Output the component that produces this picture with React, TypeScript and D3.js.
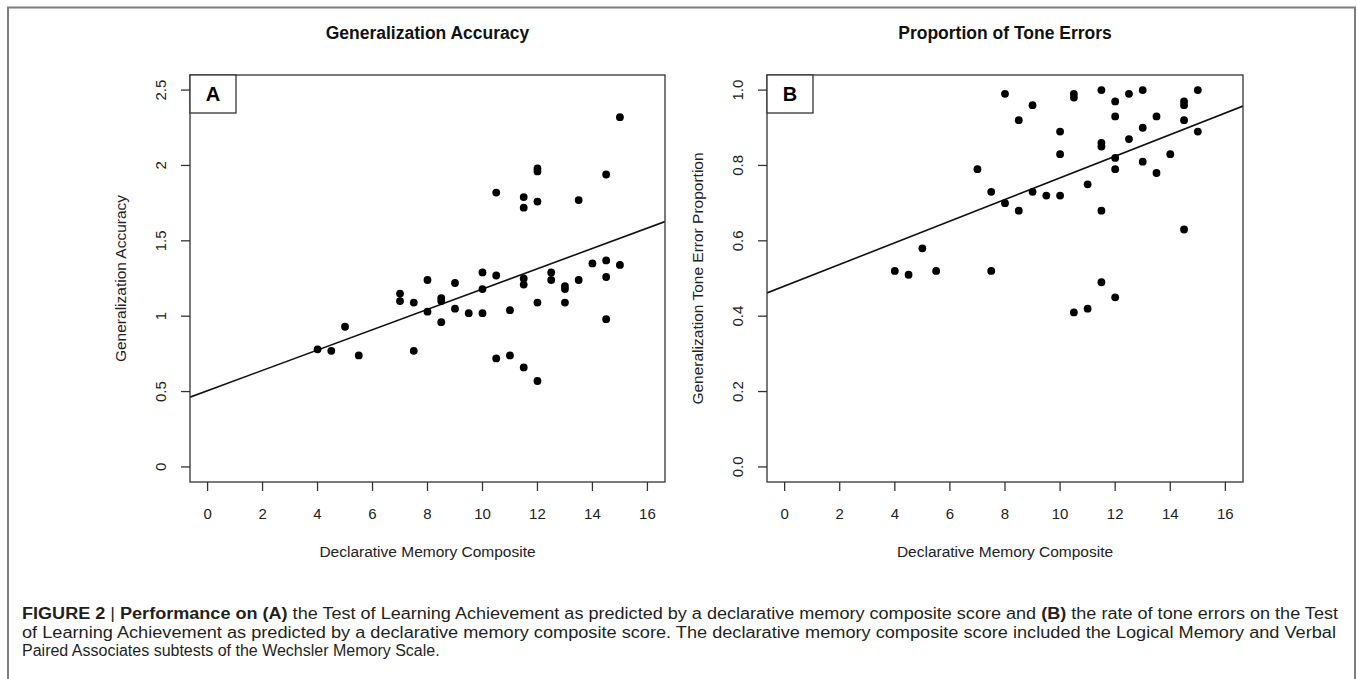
import React, { useEffect, useRef } from 'react';
import * as d3 from 'd3';

// Declarative memory composite (x) for each participant, panel A
const memoryA = [
  4, 4.5, 5, 5.5, 7, 7, 7.5, 7.5, 8, 8, 8.5, 8.5, 8.5, 9, 9, 9.5, 10, 10, 10,
  10.5, 10.5, 10.5, 11, 11, 11.5, 11.5, 11.5, 11.5, 11.5, 12, 12, 12, 12, 12,
  12.5, 12.5, 13, 13, 13, 13.5, 13.5, 14, 14.5, 14.5, 14.5, 14.5, 15, 15,
];
const accuracyA = [
  0.78, 0.77, 0.93, 0.74, 1.15, 1.1, 1.09, 0.77, 1.24, 1.03, 1.12, 1.1, 0.96,
  1.22, 1.05, 1.02, 1.29, 1.18, 1.02, 1.82, 1.27, 0.72, 1.04, 0.74, 1.79, 1.72,
  1.25, 1.21, 0.66, 1.98, 1.96, 1.76, 1.09, 0.57, 1.29, 1.24, 1.2, 1.18, 1.09,
  1.77, 1.24, 1.35, 1.94, 1.37, 1.26, 0.98, 2.32, 1.34,
];

// panel B
const memoryB = [
  4, 4.5, 5, 5.5, 7, 7.5, 7.5, 8, 8, 8.5, 8.5, 9, 9, 9.5, 10, 10, 10, 10.5,
  10.5, 10.5, 11, 11, 11.5, 11.5, 11.5, 11.5, 11.5, 12, 12, 12, 12, 12, 12.5,
  12.5, 13, 13, 13, 13.5, 13.5, 14, 14.5, 14.5, 14.5, 14.5, 15, 15,
];
const toneErrorB = [
  0.52, 0.51, 0.58, 0.52, 0.79, 0.73, 0.52, 0.99, 0.7, 0.92, 0.68, 0.96, 0.73,
  0.72, 0.89, 0.83, 0.72, 0.99, 0.98, 0.41, 0.75, 0.42, 1.0, 0.86, 0.85, 0.68,
  0.49, 0.97, 0.93, 0.82, 0.79, 0.45, 0.99, 0.87, 1.0, 0.9, 0.81, 0.93, 0.78,
  0.83, 0.97, 0.96, 0.92, 0.63, 1.0, 0.89,
];

// fitted lines (intercept, slope)
const fitA = [0.506, 0.0674];
const fitB = [0.48, 0.0287];

const xTicks = [0, 2, 4, 6, 8, 10, 12, 14, 16];
const yTicksA = [0, 0.5, 1, 1.5, 2, 2.5];
const yTickLabelsA = ['0', '0.5', '1', '1.5', '2', '2.5'];
const yTicksB = [0, 0.2, 0.4, 0.6, 0.8, 1.0];
const yTickLabelsB = ['0.0', '0.2', '0.4', '0.6', '0.8', '1.0'];

const FONT = '"Liberation Sans", Arial, Helvetica, sans-serif';
const INK = '#222';

interface PanelSpec {
  left: number;
  right: number;
  letter: string;
  title: string;
  yLabel: string;
  xs: number[];
  ys: number[];
  fit: number[];
  yDomain: [number, number];
  yTicks: number[];
  yTickLabels: string[];
}

const TOP = 75;
const BOTTOM = 482;

function drawPanel(g: d3.Selection<SVGGElement, unknown, null, undefined>, p: PanelSpec, clipId: string) {
  const x = d3.scaleLinear().domain([-0.64, 16.64]).range([p.left, p.right]);
  const y = d3.scaleLinear().domain(p.yDomain).range([BOTTOM, TOP]);

  g.append('clipPath').attr('id', clipId)
    .append('rect')
    .attr('x', p.left).attr('y', TOP)
    .attr('width', p.right - p.left).attr('height', BOTTOM - TOP);

  // regression line
  const [x0, x1] = x.domain();
  g.append('line')
    .attr('clip-path', `url(#${clipId})`)
    .attr('x1', x(x0)).attr('y1', y(p.fit[0] + p.fit[1] * x0))
    .attr('x2', x(x1)).attr('y2', y(p.fit[0] + p.fit[1] * x1))
    .attr('stroke', '#111')
    .attr('stroke-width', 1.6);

  // points
  g.append('g')
    .selectAll('circle')
    .data(p.xs.map((v, i) => ({ x: v, y: p.ys[i] })))
    .join('circle')
    .attr('cx', d => x(d.x))
    .attr('cy', d => y(d.y))
    .attr('r', 3.9)
    .attr('fill', '#000');

  // plot box
  g.append('rect')
    .attr('x', p.left).attr('y', TOP)
    .attr('width', p.right - p.left).attr('height', BOTTOM - TOP)
    .attr('fill', 'none')
    .attr('stroke', '#333')
    .attr('stroke-width', 1.3);

  // letter box
  g.append('rect')
    .attr('x', p.left).attr('y', TOP)
    .attr('width', 46).attr('height', 38)
    .attr('fill', '#fff')
    .attr('stroke', '#333')
    .attr('stroke-width', 1.3);
  g.append('text')
    .attr('x', p.left + 23).attr('y', TOP + 26)
    .attr('text-anchor', 'middle')
    .style('font-family', FONT)
    .style('font-weight', 'bold')
    .style('font-size', '20px')
    .attr('fill', '#000')
    .text(p.letter);

  // x axis
  const xAxis = g.append('g');
  xAxis.selectAll('line')
    .data(xTicks)
    .join('line')
    .attr('x1', d => x(d)).attr('x2', d => x(d))
    .attr('y1', BOTTOM).attr('y2', BOTTOM + 9)
    .attr('stroke', '#333').attr('stroke-width', 1.3);
  xAxis.selectAll('text')
    .data(xTicks)
    .join('text')
    .attr('x', d => x(d))
    .attr('y', 519)
    .attr('text-anchor', 'middle')
    .style('font-family', FONT)
    .style('font-size', '15px')
    .attr('fill', INK)
    .text(d => String(d));

  // y axis
  const yAxis = g.append('g');
  yAxis.selectAll('line')
    .data(p.yTicks)
    .join('line')
    .attr('x1', p.left - 9).attr('x2', p.left)
    .attr('y1', d => y(d)).attr('y2', d => y(d))
    .attr('stroke', '#333').attr('stroke-width', 1.3);
  yAxis.selectAll('text')
    .data(p.yTicks)
    .join('text')
    .attr('transform', d => `translate(${p.left - 24},${y(d)}) rotate(-90)`)
    .attr('text-anchor', 'middle')
    .style('font-family', FONT)
    .style('font-size', '15px')
    .attr('fill', INK)
    .text((d, i) => p.yTickLabels[i]);

  // titles
  const cx = (p.left + p.right) / 2;
  g.append('text')
    .attr('x', cx).attr('y', 39)
    .attr('text-anchor', 'middle')
    .style('font-family', FONT)
    .style('font-weight', 'bold')
    .style('font-size', '17.5px')
    .attr('fill', '#111')
    .text(p.title);

  g.append('text')
    .attr('x', cx).attr('y', 557)
    .attr('text-anchor', 'middle')
    .style('font-family', FONT)
    .style('font-size', '15.5px')
    .attr('fill', INK)
    .text('Declarative Memory Composite');

  g.append('text')
    .attr('transform', `translate(${p.left - 64},${(TOP + BOTTOM) / 2}) rotate(-90)`)
    .attr('text-anchor', 'middle')
    .style('font-family', FONT)
    .style('font-size', '15.5px')
    .attr('fill', INK)
    .text(p.yLabel);
}

const captionLines: { parts: [string, boolean][]; length?: number }[] = [
  {
    parts: [
      ['FIGURE 2', true],
      [' | ', false],
      ['Performance on (A)', true],
      [' the Test of Learning Achievement as predicted by a declarative memory composite score and ', false],
      ['(B)', true],
      [' the rate of tone errors on the Test', false],
    ],
    length: 1316,
  },
  {
    parts: [
      ['of Learning Achievement as predicted by a declarative memory composite score. The declarative memory composite score included the Logical Memory and Verbal', false],
    ],
    length: 1314,
  },
  {
    parts: [['Paired Associates subtests of the Wechsler Memory Scale.', false]],
  },
];

export default function App() {
  const svgRef = useRef<SVGSVGElement>(null);

  useEffect(() => {
    if (!svgRef.current) return;
    const svg = d3.select(svgRef.current);
    svg.selectAll('*').remove();

    svg.append('rect').attr('width', 1357).attr('height', 679).attr('fill', '#fff');

    // outer figure frame
    svg.append('path')
      .attr('d', 'M8,679 L8,7.5 L1355,7.5 L1355,679')
      .attr('fill', 'none')
      .attr('stroke', '#7d7d7d')
      .attr('stroke-width', 2);

    const panels: PanelSpec[] = [
      {
        left: 190, right: 665, letter: 'A', title: 'Generalization Accuracy',
        yLabel: 'Generalization Accuracy', xs: memoryA, ys: accuracyA, fit: fitA,
        yDomain: [-0.1, 2.6], yTicks: yTicksA, yTickLabels: yTickLabelsA,
      },
      {
        left: 767, right: 1243, letter: 'B', title: 'Proportion of Tone Errors',
        yLabel: 'Generalization Tone Error Proportion', xs: memoryB, ys: toneErrorB, fit: fitB,
        yDomain: [-0.04, 1.04], yTicks: yTicksB, yTickLabels: yTickLabelsB,
      },
    ];
    panels.forEach((p, i) => drawPanel(svg.append('g'), p, `clip-${i}`));

    // caption
    captionLines.forEach((line, i) => {
      const t = svg.append('text')
        .attr('x', 22)
        .attr('y', 619 + i * 18.5)
        .style('font-family', FONT)
        .style('font-size', '16px')
        .attr('fill', '#231f20');
      if (line.length) t.attr('textLength', line.length).attr('lengthAdjust', 'spacingAndGlyphs');
      line.parts.forEach(([s, bold]) => {
        t.append('tspan')
          .style('font-weight', bold ? 'bold' : 'normal')
          .text(s);
      });
    });
  }, []);

  return (
    <svg
      ref={svgRef}
      width={1357}
      height={679}
      style={{ position: 'absolute', left: 0, top: 0 }}
    />
  );
}
